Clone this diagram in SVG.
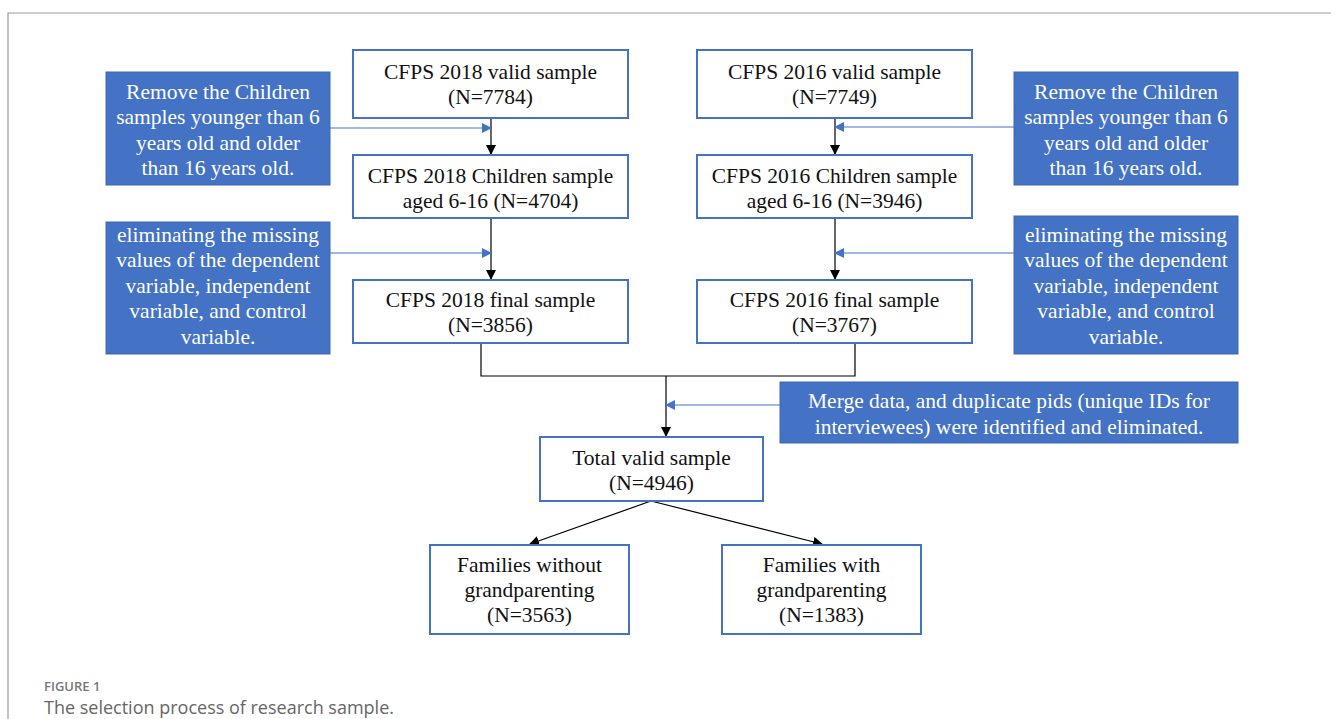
<svg xmlns="http://www.w3.org/2000/svg" width="1331" height="719" viewBox="0 0 1331 719">
<style>
.box{fill:#fff;stroke:#4472C4;stroke-width:2}
.note{fill:#4472C4;stroke:#3d68b3;stroke-width:1}
.t{font-family:"Liberation Serif","Times New Roman",serif;font-size:21.5px;fill:#111;text-anchor:middle}
.w{font-family:"Liberation Serif","Times New Roman",serif;font-size:21.5px;fill:#fff;text-anchor:middle}
.k{stroke:#000;stroke-width:1.2;fill:none}
.b{stroke:#4472C4;stroke-width:1.2;fill:none}
</style>
<defs>
<marker id="ak" markerWidth="10" markerHeight="10" refX="9" refY="5" orient="auto" markerUnits="userSpaceOnUse"><path d="M0,0 L10,5 L0,10 z" fill="#000"/></marker>
<marker id="ab" markerWidth="10" markerHeight="10" refX="9" refY="5" orient="auto" markerUnits="userSpaceOnUse"><path d="M0,0 L10,5 L0,10 z" fill="#4472C4"/></marker>
</defs>
<rect x="0" y="0" width="1331" height="719" fill="#fff"/>
<path d="M8,719 V13 H1331" stroke="#999" stroke-width="1.2" fill="none"/>

<g id="connectors">
<line class="k" x1="491" y1="118" x2="491" y2="154" marker-end="url(#ak)"/>
<line class="k" x1="835" y1="118" x2="835" y2="154" marker-end="url(#ak)"/>
<line class="k" x1="491" y1="218" x2="491" y2="279" marker-end="url(#ak)"/>
<line class="k" x1="835" y1="218" x2="835" y2="279" marker-end="url(#ak)"/>
<path class="k" d="M481,343 V376 H855 V343"/>
<line class="k" x1="666" y1="376" x2="666" y2="436" marker-end="url(#ak)"/>
<line class="k" x1="651" y1="501" x2="530" y2="544" marker-end="url(#ak)"/>
<line class="k" x1="651" y1="501" x2="822" y2="544" marker-end="url(#ak)"/>
<line class="b" x1="330" y1="128" x2="491" y2="128" marker-end="url(#ab)"/>
<line class="b" x1="1014" y1="127" x2="835" y2="127" marker-end="url(#ab)"/>
<line class="b" x1="330" y1="253" x2="491" y2="253" marker-end="url(#ab)"/>
<line class="b" x1="1014" y1="253" x2="835" y2="253" marker-end="url(#ab)"/>
<line class="b" x1="780" y1="405" x2="666" y2="405" marker-end="url(#ab)"/>
</g>

<g id="n2018valid"><rect class="box" x="353" y="50" width="275" height="68"/>
<text class="t" x="490.5" y="79">CFPS 2018 valid sample</text><text class="t" x="490.5" y="104">(N=7784)</text></g>
<g id="n2016valid"><rect class="box" x="697" y="50" width="275" height="68"/>
<text class="t" x="834.5" y="79">CFPS 2016 valid sample</text><text class="t" x="834.5" y="104">(N=7749)</text></g>
<g id="n2018child"><rect class="box" x="353" y="155" width="275" height="63"/>
<text class="t" x="490.5" y="183">CFPS 2018 Children sample</text><text class="t" x="490.5" y="208">aged 6-16 (N=4704)</text></g>
<g id="n2016child"><rect class="box" x="697" y="155" width="275" height="63"/>
<text class="t" x="834.5" y="183">CFPS 2016 Children sample</text><text class="t" x="834.5" y="208">aged 6-16 (N=3946)</text></g>
<g id="n2018final"><rect class="box" x="353" y="280" width="275" height="63"/>
<text class="t" x="490.5" y="307">CFPS 2018 final sample</text><text class="t" x="490.5" y="332">(N=3856)</text></g>
<g id="n2016final"><rect class="box" x="697" y="280" width="275" height="63"/>
<text class="t" x="834.5" y="307">CFPS 2016 final sample</text><text class="t" x="834.5" y="332">(N=3767)</text></g>
<g id="total"><rect class="box" x="540" y="437" width="223" height="64"/>
<text class="t" x="651.5" y="465">Total valid sample</text><text class="t" x="651.5" y="490">(N=4946)</text></g>
<g id="without"><rect class="box" x="430" y="545" width="199" height="89"/>
<text class="t" x="529.5" y="572">Families without</text><text class="t" x="529.5" y="597">grandparenting</text><text class="t" x="529.5" y="622">(N=3563)</text></g>
<g id="with"><rect class="box" x="722" y="545" width="199" height="89"/>
<text class="t" x="821.5" y="572">Families with</text><text class="t" x="821.5" y="597">grandparenting</text><text class="t" x="821.5" y="622">(N=1383)</text></g>

<g id="noteL1"><rect class="note" x="106" y="72" width="224" height="113"/>
<text class="w" x="218" y="99">Remove the Children</text><text class="w" x="218" y="124">samples younger than 6</text><text class="w" x="218" y="150">years old and older</text><text class="w" x="218" y="175">than 16 years old.</text></g>
<g id="noteR1"><rect class="note" x="1014" y="72" width="224" height="113"/>
<text class="w" x="1126" y="99">Remove the Children</text><text class="w" x="1126" y="124">samples younger than 6</text><text class="w" x="1126" y="150">years old and older</text><text class="w" x="1126" y="175">than 16 years old.</text></g>
<g id="noteL2"><rect class="note" x="106" y="222" width="224" height="132"/>
<text class="w" x="218" y="242">eliminating the missing</text><text class="w" x="218" y="267">values of the dependent</text><text class="w" x="218" y="293">variable, independent</text><text class="w" x="218" y="318">variable, and control</text><text class="w" x="218" y="344">variable.</text></g>
<g id="noteR2"><rect class="note" x="1014" y="216" width="224" height="138"/>
<text class="w" x="1126" y="242">eliminating the missing</text><text class="w" x="1126" y="267">values of the dependent</text><text class="w" x="1126" y="293">variable, independent</text><text class="w" x="1126" y="318">variable, and control</text><text class="w" x="1126" y="344">variable.</text></g>
<g id="noteMerge"><rect class="note" x="780" y="382" width="458" height="61"/>
<text class="w" x="1009" y="408">Merge data, and duplicate pids (unique IDs for</text><text class="w" x="1009" y="434">interviewees) were identified and eliminated.</text></g>

<text x="44" y="691" font-family="'Open Sans','Noto Sans',sans-serif" font-size="13" font-weight="600" fill="#777">FIGURE 1</text>
<text x="44" y="714" font-family="'Open Sans','Noto Sans',sans-serif" font-size="18" fill="#666">The selection process of research sample.</text>
</svg>
